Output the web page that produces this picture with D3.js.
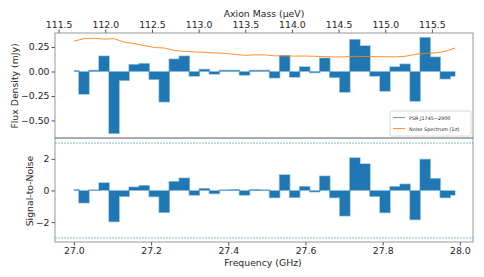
<!DOCTYPE html>
<html>
<head>
<meta charset="utf-8">
<script src="https://cdn.jsdelivr.net/npm/d3@7"></script>
<style>
  body { margin: 0; background: #fff; }
  text { font-family: "DejaVu Sans", sans-serif; fill: #262626; }
</style>
</head>
<body>
<svg id="canvas"></svg>
<script>

// Channel frequencies (GHz).
var freqs = [27.000, 27.026, 27.052, 27.078, 27.104, 27.130, 27.156, 27.182, 27.208, 27.234,
             27.260, 27.286, 27.312, 27.338, 27.364, 27.390, 27.416, 27.442, 27.468, 27.494,
             27.520, 27.546, 27.572, 27.598, 27.624, 27.650, 27.676, 27.702, 27.728, 27.754,
             27.780, 27.806, 27.832, 27.858, 27.884, 27.910, 27.936, 27.962, 27.988];

// Flux density of PSR J1745-2900 (mJy).
var flux = [0.007, -0.23, 0.01, 0.155, -0.63, -0.09, 0.07, 0.08, -0.08, -0.31,
            0.125, 0.155, -0.045, 0.02, -0.025, 0.01, 0.01, -0.035, 0.01, 0.01,
            -0.065, 0.16, -0.055, 0.045, -0.01, 0.135, -0.06, -0.21, 0.325, 0.26,
            -0.045, -0.2, 0.045, 0.075, -0.3, 0.345, 0.145, -0.075, -0.045];

// Noise spectrum, 1 sigma (mJy).
var noise = [0.31, 0.335, 0.34, 0.33, 0.335, 0.30, 0.285, 0.265, 0.245, 0.24,
             0.215, 0.205, 0.2, 0.195, 0.19, 0.185, 0.175, 0.165, 0.17, 0.17,
             0.16, 0.158, 0.157, 0.158, 0.155, 0.152, 0.148, 0.15, 0.155, 0.153,
             0.152, 0.15, 0.15, 0.155, 0.175, 0.185, 0.19, 0.205, 0.24];

// Signal-to-noise per channel.
var snr = [0.05, -0.77, 0.03, 0.47, -1.96, -0.36, 0.21, 0.3, -0.38, -1.38,
           0.55, 0.77, -0.28, 0.11, -0.19, 0.03, 0.04, -0.28, 0.04, 0.03,
           -0.45, 0.98, -0.43, 0.23, -0.08, 0.9, -0.45, -1.6, 2.06, 1.68,
           -0.36, -1.4, 0.23, 0.4, -1.83, 1.96, 0.74, -0.45, -0.28];

// Tick values.
var freqTicks = [27.0, 27.2, 27.4, 27.6, 27.8, 28.0];
var massTicks = [111.5, 112.0, 112.5, 113.0, 113.5, 114.0, 114.5, 115.0, 115.5];
var fluxTicks = [0.25, 0, -0.25, -0.5];
var snrTicks = [2, 0, -2];
var snrLimits = [3, -3];

// Legend labels.
var legendLabels = ['PSR J1745\u22122900', 'Noise Spectrum (1\u03c3)'];

// GHz to micro-eV.
var ghzToUeV = 4.1357;

// Canvas dimensions.
var canvasWidth = 484;
var canvasHeight = 277;

var left = 55, right = 473;
var topY = 33, midY = 138, bottomY = 242;

var blue = '#1f77b4';
var orange = '#ff7f0e';
var spineColor = '#808080';
var fontSize = 9.3;

var svg = d3.select('#canvas')
            .attr('width', canvasWidth)
            .attr('height', canvasHeight);

var translation = function(x, y) {
  return 'translate(' + x + ',' + y + ')';
}

// Scales.
var xScale = d3.scaleLinear().domain([26.951, 28.034]).range([left, right]);
var massScale = d3.scaleLinear()
                  .domain([26.951 * ghzToUeV, 28.034 * ghzToUeV])
                  .range([left, right]);
var yFlux = d3.scaleLinear().domain([-0.679, 0.393]).range([midY, topY]);
var ySnr = d3.scaleLinear().domain([-3.26, 3.32]).range([bottomY, midY]);

// Style an axis group.
var styleAxis = function(g) {
  g.selectAll('.domain').remove();
  g.selectAll('line').attr('stroke', '#262626').attr('stroke-width', 0.8);
  g.selectAll('text').style('font-size', fontSize + 'px').attr('fill', '#262626');
}

var fmt2 = function(d) { return d3.format('.2f')(d).replace('-', '\u2212'); };
var fmtInt = function(d) { return String(d).replace('-', '\u2212'); };

// Draw one stepped panel.
var drawPanel = function(values, yScale) {
  var area = d3.area()
               .curve(d3.curveStep)
               .x(function(d, i) { return xScale(freqs[i]); })
               .y0(yScale(0))
               .y1(function(d) { return yScale(d); });

  var line = d3.line()
               .curve(d3.curveStep)
               .x(function(d, i) { return xScale(freqs[i]); })
               .y(function(d) { return yScale(d); });

  svg.append('path')
     .datum(values)
     .attr('d', area)
     .attr('fill', blue);

  svg.append('path')
     .datum(values)
     .attr('d', line)
     .attr('fill', 'none')
     .attr('stroke', blue)
     .attr('stroke-opacity', 0.45)
     .attr('stroke-width', 1.5);
}

// Upper panel: flux and noise.
drawPanel(flux, yFlux);

var noiseLine = d3.line()
                  .x(function(d, i) { return xScale(freqs[i]); })
                  .y(function(d) { return yFlux(d); });

svg.append('path')
   .datum(noise)
   .attr('d', noiseLine)
   .attr('fill', 'none')
   .attr('stroke', orange)
   .attr('stroke-opacity', 0.85)
   .attr('stroke-width', 1);

// Lower panel: signal to noise.
drawPanel(snr, ySnr);

svg.selectAll('.limit')
   .data(snrLimits)
   .enter()
   .append('line')
   .attr('class', 'limit')
   .attr('x1', left)
   .attr('x2', right)
   .attr('y1', function(d) { return ySnr(d); })
   .attr('y2', function(d) { return ySnr(d); })
   .attr('stroke', blue)
   .attr('stroke-opacity', 0.55)
   .attr('stroke-width', 1)
   .attr('stroke-dasharray', '2,1');

// Axes.
svg.append('g')
   .attr('transform', translation(0, topY))
   .call(d3.axisTop(massScale).tickValues(massTicks).tickSize(3.5).tickPadding(1.5).tickFormat(d3.format('.1f')))
   .call(styleAxis);

svg.append('g')
   .attr('transform', translation(0, bottomY))
   .call(d3.axisBottom(xScale).tickValues(freqTicks).tickSize(3.5).tickPadding(2).tickFormat(d3.format('.1f')))
   .call(styleAxis);

svg.append('g')
   .attr('transform', translation(left, 0))
   .call(d3.axisLeft(yFlux).tickValues(fluxTicks).tickSize(3.5).tickPadding(2).tickFormat(fmt2))
   .call(styleAxis);

svg.append('g')
   .attr('transform', translation(left, 0))
   .call(d3.axisLeft(ySnr).tickValues(snrTicks).tickSize(3.5).tickPadding(2).tickFormat(fmtInt))
   .call(styleAxis);

// Panel frames.
svg.append('rect')
   .attr('x', left).attr('y', topY)
   .attr('width', right - left).attr('height', midY - topY)
   .attr('fill', 'none').attr('stroke', spineColor).attr('stroke-width', 0.8);

svg.append('rect')
   .attr('x', left).attr('y', midY)
   .attr('width', right - left).attr('height', bottomY - midY)
   .attr('fill', 'none').attr('stroke', spineColor).attr('stroke-width', 0.8);

// Axis labels.
svg.append('text')
   .attr('x', (left + right) / 2).attr('y', 13)
   .attr('text-anchor', 'middle').attr('dominant-baseline', 'central')
   .style('font-size', fontSize + 'px')
   .text('Axion Mass (\u03bceV)');

svg.append('text')
   .attr('x', 263).attr('y', 262)
   .attr('text-anchor', 'middle').attr('dominant-baseline', 'central')
   .style('font-size', fontSize + 'px')
   .text('Frequency (GHz)');

svg.append('text')
   .attr('transform', translation(14, 86) + ' rotate(-90)')
   .attr('text-anchor', 'middle').attr('dominant-baseline', 'central')
   .style('font-size', fontSize + 'px')
   .text('Flux Density (mJy)');

svg.append('text')
   .attr('transform', translation(29, 191) + ' rotate(-90)')
   .attr('text-anchor', 'middle').attr('dominant-baseline', 'central')
   .style('font-size', fontSize + 'px')
   .text('Signal-to-Noise');

// Legend.
var legend = svg.append('g').attr('transform', translation(390, 111));

legend.append('rect')
      .attr('width', 81).attr('height', 25)
      .attr('rx', 2)
      .attr('fill', '#fff').attr('fill-opacity', 0.8)
      .attr('stroke', '#d0d0d0').attr('stroke-width', 0.8);

var legendColors = [blue, orange];
var legendOpacity = [0.7, 0.85];

legend.selectAll('.entry')
      .data(legendLabels)
      .enter()
      .append('g')
      .attr('class', 'entry')
      .attr('transform', function(d, i) { return translation(0, 6.5 + i * 11); })
      .each(function(d, i) {
        var g = d3.select(this);
        g.append('line')
         .attr('x1', 3).attr('x2', 15)
         .attr('stroke', legendColors[i])
         .attr('stroke-opacity', legendOpacity[i])
         .attr('stroke-width', 1);
        g.append('text')
         .attr('x', 19)
         .attr('dominant-baseline', 'central')
         .style('font-size', '4.9px')
         .text(d);
      });

</script>
</body>
</html>
